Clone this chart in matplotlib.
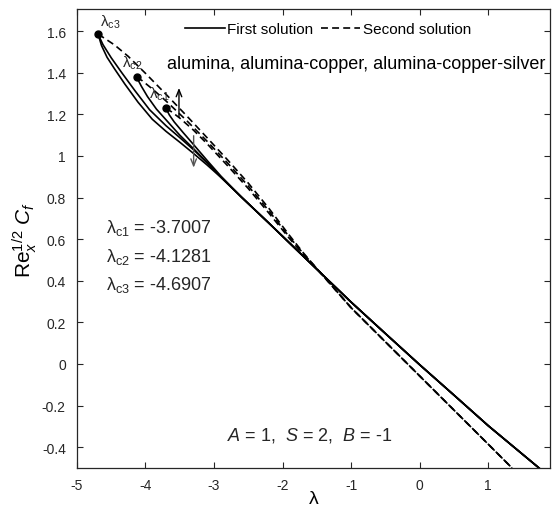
import numpy as np
import matplotlib
matplotlib.use("Agg")
import matplotlib.pyplot as plt

plt.rcParams['font.family'] = ['Liberation Sans', 'DejaVu Sans']
plt.rcParams['mathtext.fontset'] = 'custom'
plt.rcParams['mathtext.rm'] = 'Liberation Sans'
plt.rcParams['mathtext.it'] = 'Liberation Sans:italic'
plt.rcParams['mathtext.bf'] = 'Liberation Sans:bold'
plt.rcParams['lines.scale_dashes'] = False

# ---------------- data ----------------
# critical values (turning points)
lam_c = [-3.7007, -4.1281, -4.6907]
cf_c = [1.228, 1.378, 1.585]

# common trunk of first solutions (solid)
trunk1_lam = [-2.6, -2.2, -1.8, -1.5, -1.0, -0.5, 0.0, 0.5, 1.0, 1.74]
trunk1_val = [0.802, 0.677, 0.550, 0.455, 0.297, 0.146, -0.004, -0.150, -0.297, -0.500]

# heads of first solutions
first_c1_lam = [-3.7007, -3.65, -3.58, -3.45, -3.3, -3.1, -2.9]
first_c1_val = [1.228, 1.196, 1.163, 1.112, 1.055, 0.978, 0.903]
first_c2_lam = [-4.1281, -4.06, -3.97, -3.84, -3.65, -3.5, -3.3, -3.1, -2.9]
first_c2_val = [1.378, 1.335, 1.285, 1.225, 1.155, 1.100, 1.035, 0.968, 0.899]
first_c3_lam = [-4.6907, -4.62, -4.5, -4.35, -4.15, -3.94, -3.7, -3.5, -3.3, -3.1, -2.9]
first_c3_val = [1.585, 1.535, 1.472, 1.402, 1.312, 1.222, 1.145, 1.088, 1.030, 0.966, 0.898]
first_c3b_lam = [-4.6907, -4.64, -4.56, -4.45, -4.3, -4.108, -3.9, -3.7, -3.5, -3.3, -3.1, -2.9]
first_c3b_val = [1.585, 1.530, 1.474, 1.418, 1.345, 1.258, 1.176, 1.118, 1.066, 1.012, 0.956, 0.897]

# common trunk of second solutions (dashed)
trunk2_lam = [-1.5, -1.0, -0.5, 0.0, 0.5, 1.0, 1.346]
trunk2_val = [0.458, 0.270, 0.106, -0.058, -0.222, -0.386, -0.500]

# heads of second solutions
second_c1_lam = [-3.7007, -3.62, -3.5, -3.3, -3.1, -2.8, -2.5, -2.2, -1.9, -1.7]
second_c1_val = [1.228, 1.212, 1.182, 1.124, 1.058, 0.952, 0.843, 0.725, 0.603, 0.527]
second_c2_lam = [-4.1281, -4.05, -3.9, -3.7, -3.4, -3.1, -2.8, -2.5, -2.2, -1.9, -1.7]
second_c2_val = [1.378, 1.362, 1.322, 1.264, 1.170, 1.070, 0.965, 0.855, 0.736, 0.610, 0.531]
second_c3_lam = [-4.6907, -4.6, -4.45, -4.25, -4.0, -3.7, -3.4, -3.1, -2.8, -2.5, -2.2, -1.9, -1.7]
second_c3_val = [1.585, 1.566, 1.533, 1.478, 1.397, 1.296, 1.193, 1.087, 0.980, 0.869, 0.748, 0.618, 0.535]

x_ticks = [-5, -4, -3, -2, -1, 0, 1]
y_ticks = [-0.4, -0.2, 0, 0.2, 0.4, 0.6, 0.8, 1, 1.2, 1.4, 1.6]
y_ticklabels = ['-0.4', '-0.2', '0', '0.2', '0.4', '0.6', '0.8', '1', '1.2', '1.4', '1.6']
crit_labels = ['λ$_{\\rm c1}$', 'λ$_{\\rm c2}$', 'λ$_{\\rm c3}$']
crit_texts = ['λ$_{\\rm c1}$ = -3.7007', 'λ$_{\\rm c2}$ = -4.1281', 'λ$_{\\rm c3}$ = -4.6907']

# ---------------- figure ----------------
fig = plt.figure(figsize=(5.53, 5.10), dpi=100)
ax = fig.add_axes([0.139, 0.0804, 0.8556, 0.8996])

lw = 1.2
dash = (5, 3)
col = 'black'

def solid(lam, val):
    l = np.concatenate([lam, trunk1_lam])
    v = np.concatenate([val, trunk1_val])
    return ax.plot(l, v, '-', color=col, lw=lw)[0]

def dashed(lam, val):
    l = np.concatenate([lam, trunk2_lam])
    v = np.concatenate([val, trunk2_val])
    ln, = ax.plot(l, v, '--', color=col, lw=lw)
    ln.set_dashes(dash)
    return ln

h1 = solid(first_c3_lam, first_c3_val)
solid(first_c3b_lam, first_c3b_val)
solid(first_c2_lam, first_c2_val)
solid(first_c1_lam, first_c1_val)
h2 = dashed(second_c3_lam, second_c3_val)
dashed(second_c2_lam, second_c2_val)
dashed(second_c1_lam, second_c1_val)

ax.plot(lam_c, cf_c, 'o', color='black', ms=5, zorder=5)

ax.set_xlim(-5, 1.9)
ax.set_ylim(-0.5, 1.705)
ax.set_xticks(x_ticks)
ax.set_xticklabels([str(t) for t in x_ticks])
ax.set_yticks(y_ticks)
ax.set_yticklabels(y_ticklabels)
ax.tick_params(direction='in', length=4, width=0.8, top=True, right=True,
               labelsize=10, labelcolor='#262626', colors='#262626')
ax.tick_params(axis='y', pad=8)
ax.tick_params(axis='x', pad=7)
for s in ax.spines.values():
    s.set_linewidth(0.9)
    s.set_color('#262626')

ax.set_xlabel('λ', fontsize=14, labelpad=-1)
ax.set_ylabel(r'$\mathrm{Re}_x^{1/2}\ C_f$', fontsize=15, labelpad=2)

# labels at turning points
lab_pos = [(-3.80, 1.30), (-4.20, 1.45), (-4.52, 1.648)]
for t, (x, y) in zip(crit_labels, lab_pos):
    ax.text(x, y, t, fontsize=11, ha='center', va='center', color='#262626')

for i, t in enumerate(crit_texts):
    ax.text(-4.57, 0.658 - i * 0.138, t, fontsize=13, ha='left', va='center', color='#262626')

ax.text(-3.69, 1.444, 'alumina, alumina-copper, alumina-copper-silver', fontsize=13,
        ha='left', va='center', color='black')
ax.text(-1.6, -0.338, r'$A$ = 1,  $S$ = 2,  $B$ = -1', fontsize=13, ha='center',
        va='center', color='#262626')

# arrows
ax.annotate('', xy=(-3.511, 1.34), xytext=(-3.511, 1.173),
            arrowprops=dict(arrowstyle='->,head_length=0.5,head_width=0.2', color='black', lw=1))
ax.annotate('', xy=(-3.297, 0.93), xytext=(-3.297, 1.11),
            arrowprops=dict(arrowstyle='->,head_length=0.5,head_width=0.2', color='#555555', lw=1))

leg = ax.legend([h1, h2], ['First solution', 'Second solution'], ncol=2, frameon=False,
                loc='center left', bbox_to_anchor=(0.212, 0.956), fontsize=11,
                handlelength=2.6, handletextpad=0.15, columnspacing=0.5, borderpad=0)

fig.savefig('out.png', dpi=100)
